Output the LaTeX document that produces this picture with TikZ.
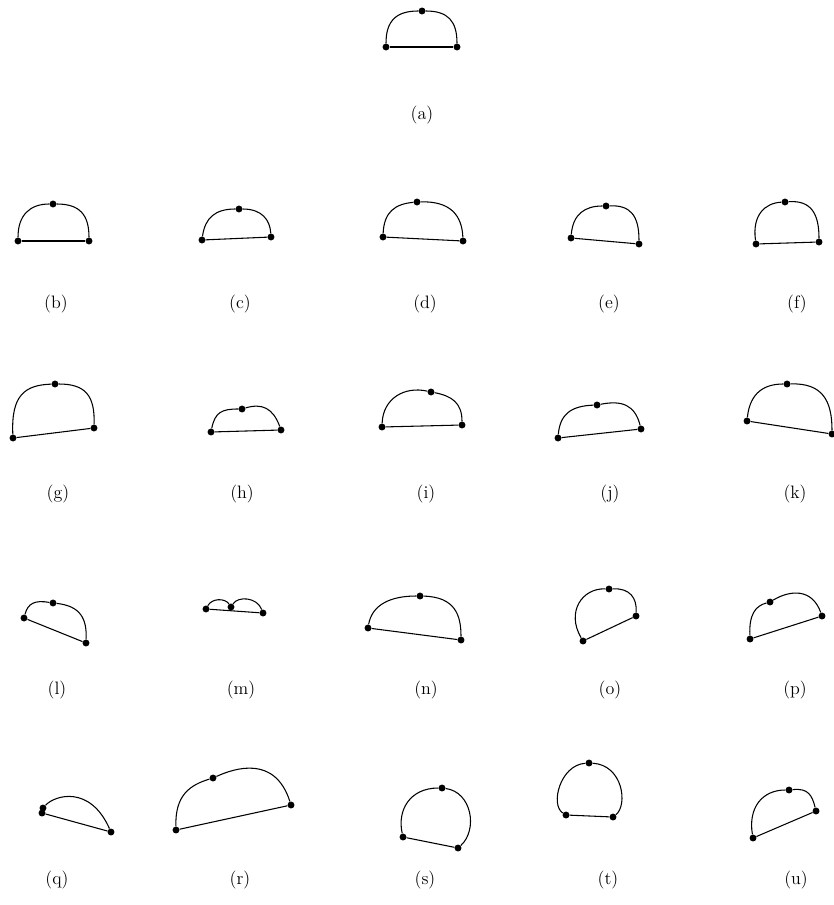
\documentclass[tikz,border=0pt]{standalone}
\begin{document}
\begin{tikzpicture}[x=0.75pt,y=-0.75pt,
  dot/.style={circle,fill=black,inner sep=0pt,minimum size=5.2pt},
  edge/.style={line width=0.8pt,black},
  lab/.style={font=\fontsize{13.5}{16}\selectfont,inner sep=1pt}]
\useasboundingbox (0,0) rectangle (833,905);

% (a)
\node[dot] (aL) at (386,47) {}; \node[dot] (aT) at (422,11) {}; \node[dot] (aR) at (457,47) {};
\draw[edge] (aL) .. controls (386,21) and (396,11) .. (aT) .. controls (448,11) and (457,21) .. (aR);
\draw[edge] (aL) -- (aR);
\node[lab] (la) at (422,115) {(a)};

% (b)
\node[dot] (bL) at (18,241) {}; \node[dot] (bT) at (53,204) {}; \node[dot] (bR) at (89,241) {};
\draw[edge] (bL) .. controls (18,215) and (30,204) .. (bT) .. controls (80,204) and (89,215) .. (bR);
\draw[edge] (bL) -- (bR);
\node[lab] (lb) at (56,304) {(b)};

% (c)
\node[dot] (cL) at (202,240) {}; \node[dot] (cT) at (239,209) {}; \node[dot] (cR) at (271,237) {};
\draw[edge] (cL) .. controls (205,218) and (215,209) .. (cT) .. controls (262,209) and (270,220) .. (cR);
\draw[edge] (cL) -- (cR);
\node[lab] (lc) at (240,304) {(c)};

% (d)
\node[dot] (dL) at (383,237) {}; \node[dot] (dT) at (417,202) {}; \node[dot] (dR) at (463,241) {};
\draw[edge] (dL) .. controls (384,212) and (395,204) .. (dT) .. controls (450,201) and (462,215) .. (dR);
\draw[edge] (dL) -- (dR);
\node[lab] (ld) at (425,304) {(d)};

% (e)
\node[dot] (eL) at (571,238) {}; \node[dot] (eT) at (606,206) {}; \node[dot] (eR) at (639,244) {};
\draw[edge] (eL) .. controls (573,214) and (585,206) .. (eT) .. controls (630,205) and (639,215) .. (eR);
\draw[edge] (eL) -- (eR);
\node[lab] (le) at (609,304) {(e)};

% (f)
\node[dot] (fL) at (756,244) {}; \node[dot] (fT) at (785,202) {}; \node[dot] (fR) at (819,242) {};
\draw[edge] (fL) .. controls (752,215) and (765,203) .. (fT) .. controls (812,200) and (819,215) .. (fR);
\draw[edge] (fL) -- (fR);
\node[lab] (lf) at (797,304) {(f)};

% (g)
\node[dot] (gL) at (13,438) {}; \node[dot] (gT) at (55,384) {}; \node[dot] (gR) at (94,428) {};
\draw[edge] (gL) .. controls (11,395) and (25,385) .. (gT) .. controls (85,384) and (95,395) .. (gR);
\draw[edge] (gL) -- (gR);
\node[lab] (lg) at (58,494) {(g)};

% (h)
\node[dot] (hL) at (211,432) {}; \node[dot] (hT) at (242,409) {}; \node[dot] (hR) at (281,430) {};
\draw[edge] (hL) .. controls (215,412) and (222,409) .. (hT) .. controls (262,403) and (273,408) .. (hR);
\draw[edge] (hL) -- (hR);
\node[lab] (lh) at (242,494) {(h)};

% (i)
\node[dot] (iL) at (382,427) {}; \node[dot] (iT) at (431,392) {}; \node[dot] (iR) at (462,425) {};
\draw[edge] (iL) .. controls (383,398) and (405,386) .. (iT) .. controls (452,396) and (462,403) .. (iR);
\draw[edge] (iL) -- (iR);
\node[lab] (li) at (426,494) {(i)};

% (j)
\node[dot] (jL) at (558,438) {}; \node[dot] (jT) at (597,405) {}; \node[dot] (jR) at (641,429) {};
\draw[edge] (jL) .. controls (560,415) and (570,406) .. (jT) .. controls (622,400) and (635,405) .. (jR);
\draw[edge] (jL) -- (jR);
\node[lab] (lj) at (610,494) {(j)};

% (k)
\node[dot] (kL) at (747,421) {}; \node[dot] (kT) at (787,384) {}; \node[dot] (kR) at (832,434) {};
\draw[edge] (kL) .. controls (750,392) and (765,384) .. (kT) .. controls (822,383) and (832,400) .. (kR);
\draw[edge] (kL) -- (kR);
\node[lab] (lk) at (795,494) {(k)};

% (l)
\node[dot] (lL) at (24,618) {}; \node[dot] (lT) at (53,603) {}; \node[dot] (lR) at (86,643) {};
\draw[edge] (lL) .. controls (28,603) and (35,600) .. (lT) .. controls (80,606) and (87,618) .. (lR);
\draw[edge] (lL) -- (lR);
\node[lab] (ll) at (57,690) {(l)};

% (m)
\node[dot] (mL) at (206,609) {}; \node[dot] (mT) at (231,607) {}; \node[dot] (mR) at (263,613) {};
\draw[edge] (mL) .. controls (212,598) and (225,598) .. (mT) .. controls (238,596) and (257,597) .. (mR);
\draw[edge] (mL) -- (mR);
\node[lab] (lm) at (241,690) {(m)};

% (n)
\node[dot] (nL) at (368,628) {}; \node[dot] (nT) at (420,596) {}; \node[dot] (nR) at (461,640) {};
\draw[edge] (nL) .. controls (372,605) and (390,596) .. (nT) .. controls (455,597) and (461,615) .. (nR);
\draw[edge] (nL) -- (nR);
\node[lab] (ln) at (426,690) {(n)};

% (o)
\node[dot] (oL) at (583,641) {}; \node[dot] (oT) at (609,589) {}; \node[dot] (oR) at (636,616) {};
\draw[edge] (oL) .. controls (566,612) and (582,588) .. (oT) .. controls (630,588) and (637,598) .. (oR);
\draw[edge] (oL) -- (oR);
\node[lab] (lo) at (610,690) {(o)};

% (p)
\node[dot] (pL) at (750,639) {}; \node[dot] (pT) at (770,602) {}; \node[dot] (pR) at (822,616) {};
\draw[edge] (pL) .. controls (749,615) and (755,606) .. (pT) .. controls (790,590) and (812,588) .. (pR);
\draw[edge] (pL) -- (pR);
\node[lab] (lp) at (795,690) {(p)};

% (q)
\node[dot] (qA) at (43,808) {}; \node[dot] (qL) at (42,813) {}; \node[dot] (qR) at (111,832) {};
\draw[edge] (qA) .. controls (55,795) and (90,785) .. (qR);
\draw[edge] (qL) -- (qR);
\node[lab] (lq) at (57,880) {(q)};

% (r)
\node[dot] (rL) at (176,830) {}; \node[dot] (rT) at (213,778) {}; \node[dot] (rR) at (291,805) {};
\draw[edge] (rL) .. controls (175,795) and (190,785) .. (rT) .. controls (235,768) and (275,755) .. (rR);
\draw[edge] (rL) -- (rR);
\node[lab] (lr) at (240,880) {(r)};

% (s)
\node[dot] (sL) at (403,837) {}; \node[dot] (sT) at (442,788) {}; \node[dot] (sR) at (458,848) {};
\draw[edge] (sL) .. controls (397,810) and (410,788) .. (sT) .. controls (472,792) and (478,830) .. (sR);
\draw[edge] (sL) -- (sR);
\node[lab] (ls) at (425,880) {(s)};

% (t)
\node[dot] (tL) at (566,815) {}; \node[dot] (tT) at (589,763) {}; \node[dot] (tR) at (613,817) {};
\draw[edge] (tL) .. controls (550,805) and (560,765) .. (tT) .. controls (623,765) and (628,805) .. (tR);
\draw[edge] (tL) -- (tR);
\node[lab] (lt) at (608,880) {(t)};

% (u)
\node[dot] (uL) at (753,838) {}; \node[dot] (uT) at (789,790) {}; \node[dot] (uR) at (816,811) {};
\draw[edge] (uL) .. controls (748,808) and (762,790) .. (uT) .. controls (808,788) and (812,795) .. (uR);
\draw[edge] (uL) -- (uR);
\node[lab] (lu) at (796,880) {(u)};
\end{tikzpicture}
\end{document}
